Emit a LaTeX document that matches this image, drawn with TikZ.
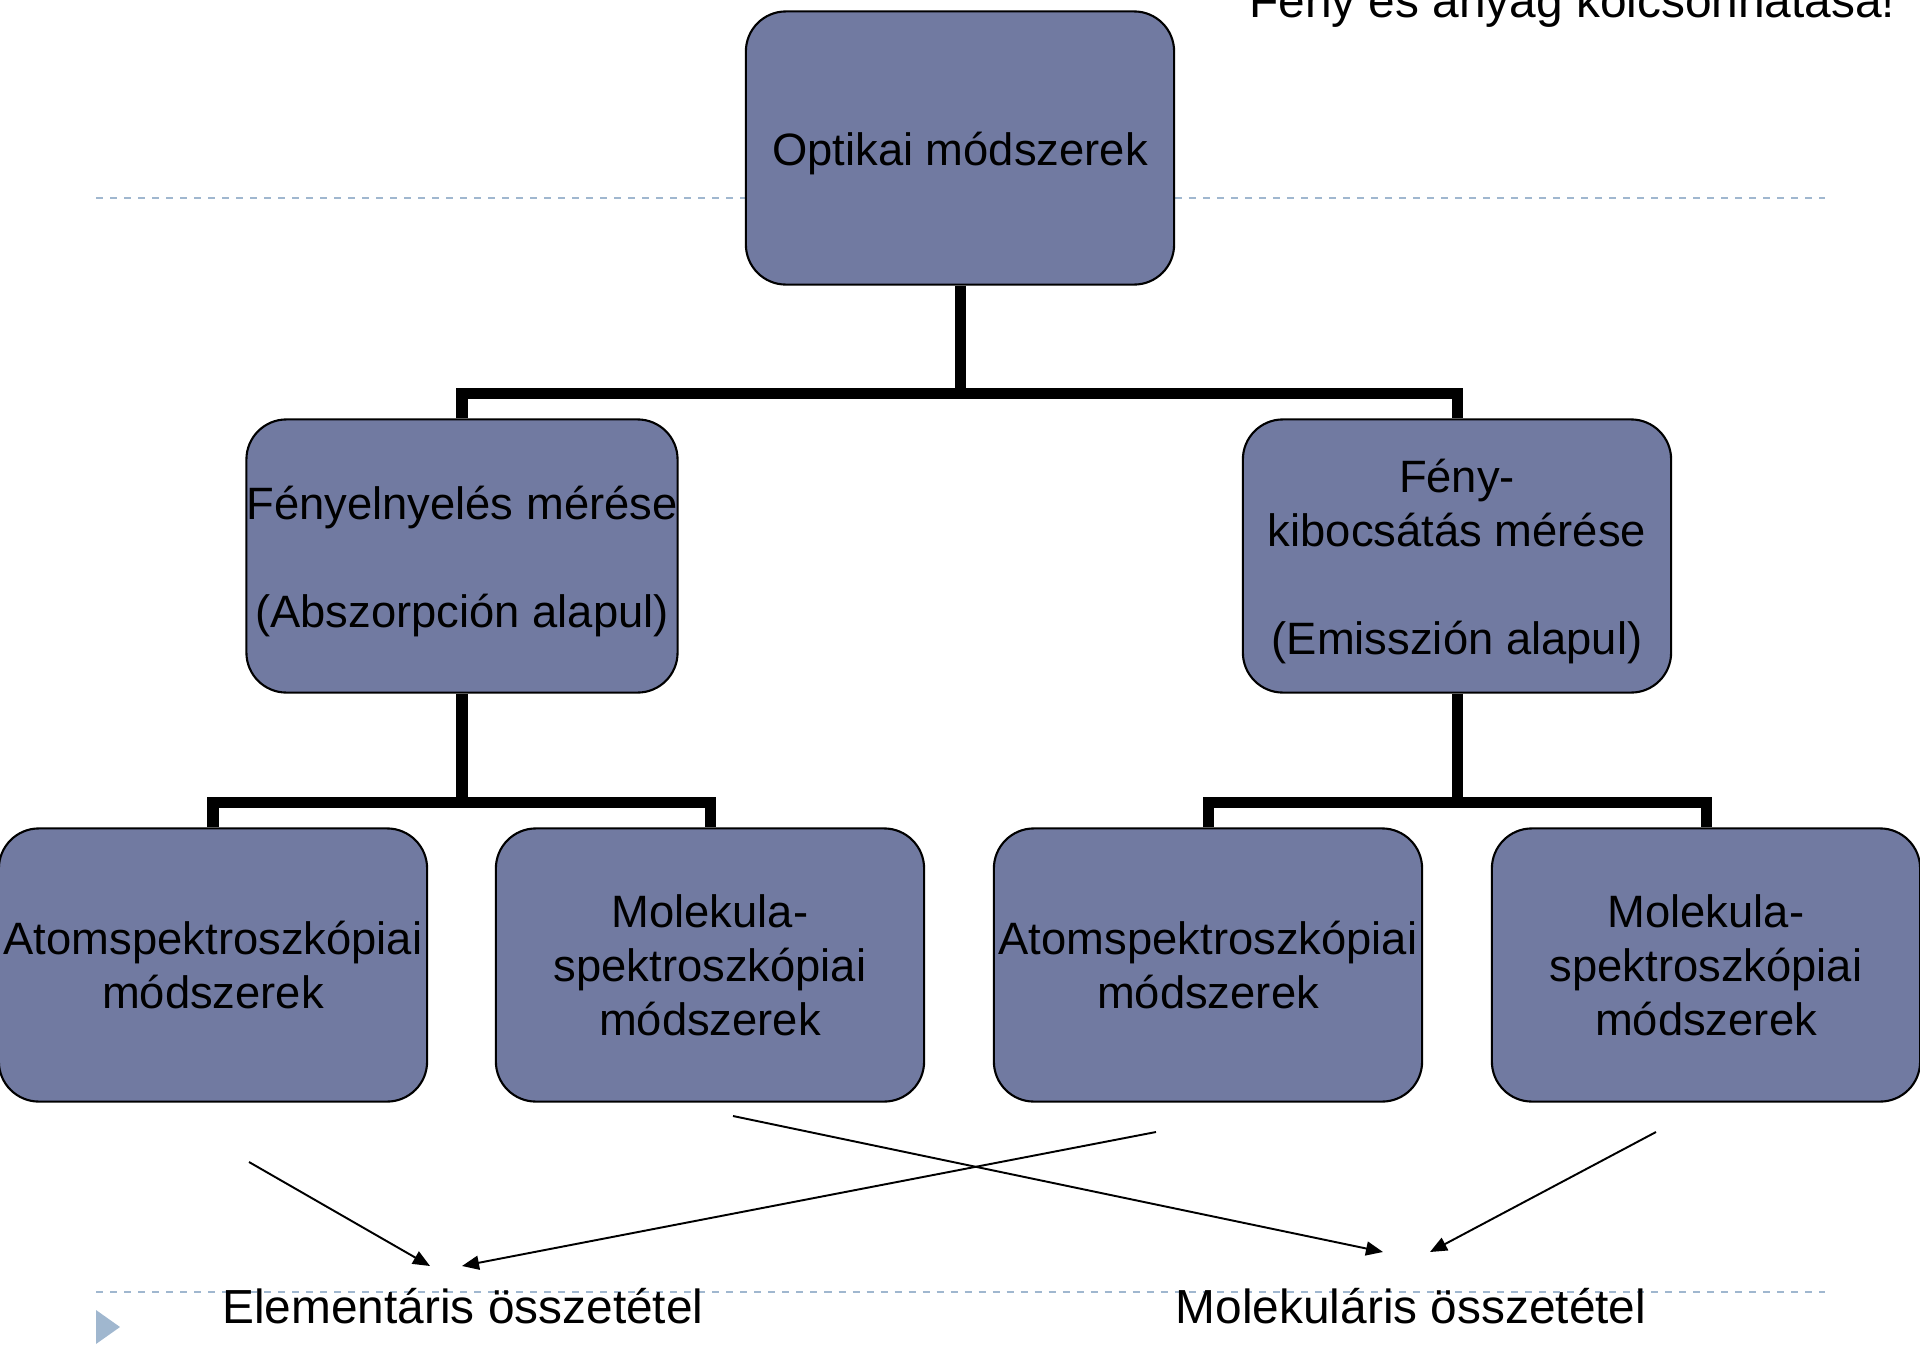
\documentclass[tikz,border=0pt]{standalone}
\usepackage{fontspec}
\setmainfont{Liberation Sans}
\usetikzlibrary{arrows.meta}
\definecolor{boxfill}{RGB}{113,122,161}
\definecolor{sepblue}{RGB}{160,183,207}
\newcommand{\toppad}{\rule{0pt}{0.44cm}}

\begin{document}
\begin{tikzpicture}[x=0.01cm,y=-0.01cm,
  box/.style={draw=black,line width=0.6pt,fill=boxfill,rounded corners=0.4cm,
    minimum width=4.28cm,minimum height=2.73cm,inner sep=0pt,align=center,
    font=\fontsize{12.9pt}{0.54cm}\selectfont},
  tree/.style={line width=0.11cm},
  sepline/.style={sepblue,line width=0.025cm,dash pattern=on 0.07cm off 0.07cm},
  arr/.style={line width=0.55pt,-{Triangle[length=0.17cm,width=0.14cm]}},
  lbl/.style={inner sep=0pt,font=\fontsize{13.6pt}{0.54cm}\selectfont}]
\useasboundingbox (0,0) rectangle (1920,1345);
\clip (0,0) rectangle (1920,1345);
\draw[sepline] (96,198) -- (1825,198);
\draw[sepline] (96,1292) -- (1825,1292);
\fill[sepblue] (96,1310) -- (120,1327) -- (96,1344) -- cycle;
\node[lbl,anchor=base east] (title) at (1896,17) {Fény és anyag kölcsönhatása!};

\node[box] (opt) at (960,148) {\toppad Optikai módszerek};
\node[box] (abs) at (462,556) {\toppad Fényelnyelés mérése\\[0.54cm](Abszorpción alapul)};
\node[box] (emi) at (1457,556) {\toppad Fény-\\kibocsátás mérése\\[0.54cm](Emisszión alapul)};
\node[box] (atomA) at (213,965) {Atomspektroszkópiai\\módszerek};
\node[box] (molA) at (710,965) {Molekula-\\spektroszkópiai\\módszerek};
\node[box] (atomE) at (1208,965) {Atomspektroszkópiai\\módszerek};
\node[box] (molE) at (1706,965) {Molekula-\\spektroszkópiai\\módszerek};

\coordinate (j0) at (opt.south |- 0,393);
\coordinate (j1) at (abs.south |- 0,802);
\coordinate (j2) at (emi.south |- 0,802);
\draw[tree] (opt.south) -- (j0);
\draw[tree] (abs.north) |- (j0) -| (emi.north);
\draw[tree] (abs.south) -- (j1);
\draw[tree] (atomA.north) |- (j1) -| (molA.north);
\draw[tree] (emi.south) -- (j2);
\draw[tree] (atomE.north) |- (j2) -| (molE.north);

\node[lbl,anchor=base] (elem) at (463,1323) {Elementáris összetétel};
\node[lbl,anchor=base] (molek) at (1411,1323) {Molekuláris összetétel};

\coordinate (s1) at (249,1162); \coordinate (t1) at (430,1266);
\coordinate (s2) at (1156,1132); \coordinate (t2) at (462,1266);
\coordinate (s3) at (733,1116); \coordinate (t3) at (1383,1252);
\coordinate (s4) at (1656,1132); \coordinate (t4) at (1430,1252);
\draw[arr] (s1) -- (t1);
\draw[arr] (s2) -- (t2);
\draw[arr] (s3) -- (t3);
\draw[arr] (s4) -- (t4);
\end{tikzpicture}
\end{document}
